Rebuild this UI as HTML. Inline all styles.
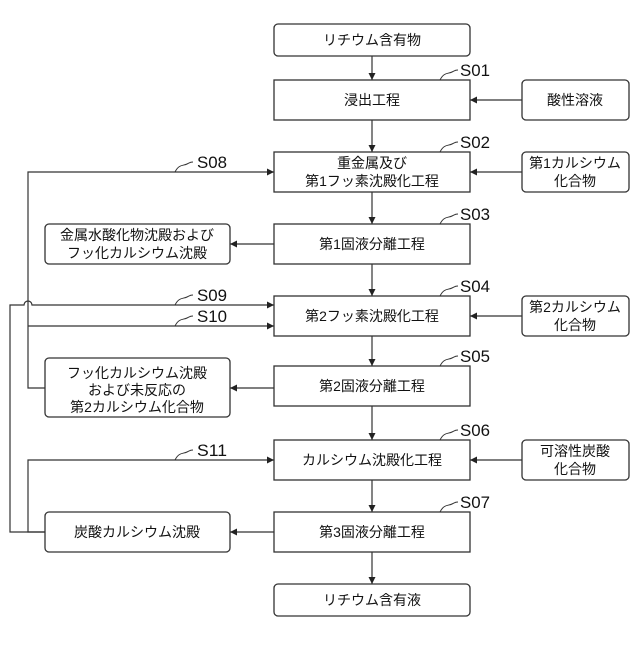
<!DOCTYPE html>
<html><head><meta charset="utf-8"><style>
body{margin:0;background:#fff}
svg text{font-family:"Liberation Sans","Noto Sans CJK JP",sans-serif;font-size:14px;fill:#111}
.l{font-size:17px}
</style></head><body>
<svg width="640" height="640" viewBox="0 0 640 640" xmlns="http://www.w3.org/2000/svg">
<defs><marker id="a" viewBox="0 0 10 10" refX="10" refY="5" markerWidth="9" markerHeight="7" orient="auto" markerUnits="userSpaceOnUse"><path d="M0,0L10,5L0,10z" fill="#222"/></marker></defs>
<g fill="none" stroke="#333" stroke-width="1.3">
<rect x="274" y="24" width="196" height="32" rx="4"/>
<rect x="274" y="80" width="196" height="40"/>
<rect x="274" y="152" width="196" height="40"/>
<rect x="274" y="224" width="196" height="40"/>
<rect x="274" y="296" width="196" height="40"/>
<rect x="274" y="366" width="196" height="40"/>
<rect x="274" y="440" width="196" height="40"/>
<rect x="274" y="512" width="196" height="40"/>
<rect x="274" y="584" width="196" height="32" rx="4"/>
<rect x="522" y="80" width="107" height="40" rx="4"/>
<rect x="522" y="152" width="107" height="40" rx="4"/>
<rect x="522" y="296" width="107" height="40" rx="4"/>
<rect x="522" y="440" width="107" height="40" rx="4"/>
<rect x="45" y="224" width="185" height="40" rx="4"/>
<rect x="45" y="358" width="185" height="59" rx="4"/>
<rect x="45" y="512" width="185" height="40" rx="4"/>
</g>
<g fill="none" stroke="#333" stroke-width="1.2" marker-end="url(#a)">
<line x1="372" y1="56" x2="372" y2="80"/>
<line x1="372" y1="120" x2="372" y2="152"/>
<line x1="372" y1="192" x2="372" y2="224"/>
<line x1="372" y1="264" x2="372" y2="296"/>
<line x1="372" y1="336" x2="372" y2="366"/>
<line x1="372" y1="406" x2="372" y2="440"/>
<line x1="372" y1="480" x2="372" y2="512"/>
<line x1="372" y1="552" x2="372" y2="584"/>
<line x1="522" y1="100" x2="470" y2="100"/>
<line x1="522" y1="172" x2="470" y2="172"/>
<line x1="522" y1="316" x2="470" y2="316"/>
<line x1="522" y1="460" x2="470" y2="460"/>
<line x1="274" y1="244" x2="230" y2="244"/>
<line x1="274" y1="388" x2="230" y2="388"/>
<line x1="274" y1="532" x2="230" y2="532"/>
<path d="M45,388H28V172H274"/>
<path d="M28,326H274"/>
<path d="M45,532H10V305H24A4,4 0 0 1 32,305H274"/>
<path d="M45,532H28V460H274"/>
</g>
<g fill="none" stroke="#333" stroke-width="1">
<path d="M440,80c4,-8 8,-6 12,-8s4,-2 6,-2"/>
<path d="M440,152c4,-8 8,-6 12,-8s4,-2 6,-2"/>
<path d="M440,224c4,-8 8,-6 12,-8s4,-2 6,-2"/>
<path d="M440,296c4,-8 8,-6 12,-8s4,-2 6,-2"/>
<path d="M440,366c4,-8 8,-6 12,-8s4,-2 6,-2"/>
<path d="M440,440c4,-8 8,-6 12,-8s4,-2 6,-2"/>
<path d="M440,512c4,-8 8,-6 12,-8s4,-2 6,-2"/>
<path d="M175,172c4,-8 8,-6 12,-8s4,-2 6,-2"/>
<path d="M175,305c4,-8 8,-6 12,-8s4,-2 6,-2"/>
<path d="M175,326c4,-8 8,-6 12,-8s4,-2 6,-2"/>
<path d="M175,460c4,-8 8,-6 12,-8s4,-2 6,-2"/>
</g>
<g class="l">
<text x="460" y="76" class="l" textLength="30" lengthAdjust="spacingAndGlyphs">S01</text>
<text x="460" y="148" class="l" textLength="30" lengthAdjust="spacingAndGlyphs">S02</text>
<text x="460" y="220" class="l" textLength="30" lengthAdjust="spacingAndGlyphs">S03</text>
<text x="460" y="292" class="l" textLength="30" lengthAdjust="spacingAndGlyphs">S04</text>
<text x="460" y="362" class="l" textLength="30" lengthAdjust="spacingAndGlyphs">S05</text>
<text x="460" y="436" class="l" textLength="30" lengthAdjust="spacingAndGlyphs">S06</text>
<text x="460" y="508" class="l" textLength="30" lengthAdjust="spacingAndGlyphs">S07</text>
<text x="197" y="168" class="l" textLength="30" lengthAdjust="spacingAndGlyphs">S08</text>
<text x="197" y="301" class="l" textLength="30" lengthAdjust="spacingAndGlyphs">S09</text>
<text x="197" y="322" class="l" textLength="30" lengthAdjust="spacingAndGlyphs">S10</text>
<text x="197" y="456" class="l" textLength="30" lengthAdjust="spacingAndGlyphs">S11</text>
</g>
<g text-anchor="middle">
<text x="372" y="45">リチウム含有物</text>
<text x="372" y="105">浸出工程</text>
<text x="372" y="168">重金属及び</text>
<text x="372" y="186">第1フッ素沈殿化工程</text>
<text x="372" y="249">第1固液分離工程</text>
<text x="372" y="321">第2フッ素沈殿化工程</text>
<text x="372" y="391">第2固液分離工程</text>
<text x="372" y="465">カルシウム沈殿化工程</text>
<text x="372" y="537">第3固液分離工程</text>
<text x="372" y="605">リチウム含有液</text>
<text x="575" y="105">酸性溶液</text>
<text x="575" y="168">第1カルシウム</text>
<text x="575" y="186">化合物</text>
<text x="575" y="312">第2カルシウム</text>
<text x="575" y="330">化合物</text>
<text x="575" y="456">可溶性炭酸</text>
<text x="575" y="474">化合物</text>
<text x="137" y="240">金属水酸化物沈殿および</text>
<text x="137" y="258">フッ化カルシウム沈殿</text>
<text x="137" y="378">フッ化カルシウム沈殿</text>
<text x="137" y="395">および未反応の</text>
<text x="137" y="412">第2カルシウム化合物</text>
<text x="137" y="537">炭酸カルシウム沈殿</text>
</g>
</svg>
</body></html>
